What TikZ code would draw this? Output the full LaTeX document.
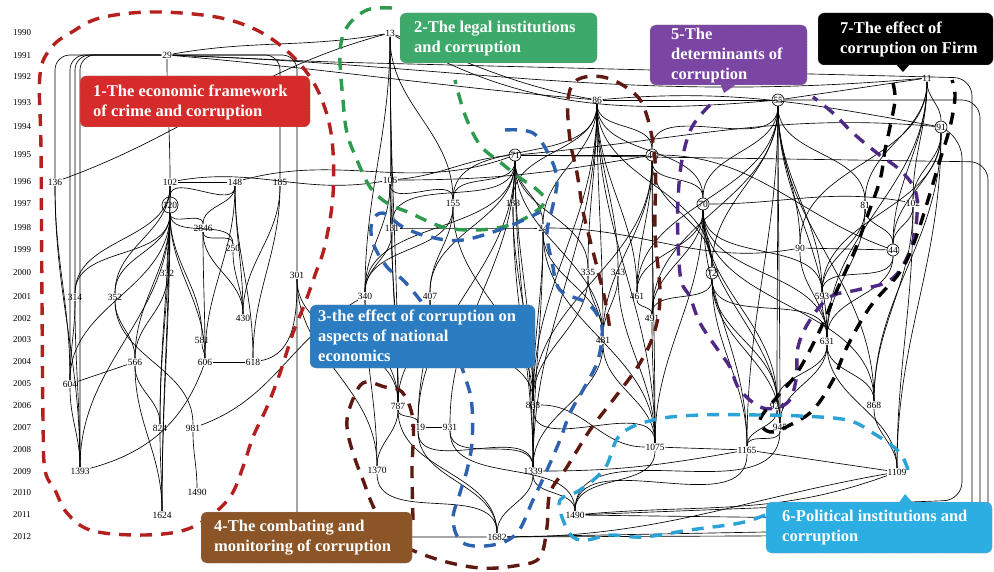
\documentclass[tikz,border=0pt]{standalone}
\usepackage{fontspec}
\setmainfont{Liberation Serif}
\definecolor{cred}{HTML}{D62B2B}
\definecolor{cgreen}{HTML}{3DAA6B}
\definecolor{cblue}{HTML}{2C7CC1}
\definecolor{cbrown}{HTML}{8C5528}
\definecolor{cpurple}{HTML}{7B46A3}
\definecolor{ccyan}{HTML}{2DAEE2}
\definecolor{dred}{HTML}{B3201E}
\definecolor{dgreen}{HTML}{2E9A4E}
\definecolor{dblue}{HTML}{2E62AE}
\definecolor{dbrown}{HTML}{5E1A12}
\definecolor{dpurple}{HTML}{4E2A86}
\definecolor{dcyan}{HTML}{2BA3D6}
\begin{document}
\begin{tikzpicture}[x=1pt,y=1pt,
  lk/.style={line width=0.65pt, black},
  nd/.style={font=\fontsize{9.5}{10}\selectfont, inner sep=0.6pt},
  cn/.style={nd, circle, draw, line width=0.6pt, inner sep=0.2pt, minimum size=12pt},
  yr/.style={font=\fontsize{9}{10}\selectfont, inner sep=0pt},
  grp/.style={line width=3.4pt, dash pattern=on 12pt off 9pt},
  lbox/.style={rounded corners=6pt, draw=black!45, densely dotted, line width=0.5pt},
  ltxt/.style={font=\fontsize{16.5}{20}\selectfont\bfseries, text=white, align=left, anchor=north west, inner sep=0pt}
]
\useasboundingbox (0,0) rectangle (994,-572);
\fill[white] (0,0) rectangle (994,-572);

% year axis
\foreach \yy/\yp in {1990/33,1991/56,1992/77,1993/103,1994/127,1995/155,1996/182,1997/204,1998/228,1999/250,2000/273,2001/297,2002/319,2003/340,2004/362,2005/384,2006/406,2007/428,2008/450,2009/472,2010/493,2011/515,2012/537}
  \node[yr] (y\yy) at (22,-\yp) {\yy};

% nodes, left cluster
\node[nd] (n29) at (167,-55) {29};
\node[nd] (n136) at (55,-182) {136};
\node[nd] (n102) at (170,-182) {102};
\node[nd] (n148) at (235,-182) {148};
\node[nd] (n185) at (280,-182) {185};
\node[cn] (n120) at (170,-205) {120};
\node[nd] (n284) at (203,-228) {2846};
\node[nd] (n250) at (233,-248) {250};
\node[nd] (n332) at (167,-273) {332};
\node[nd] (n301) at (297,-275) {301};
\node[nd] (n314) at (75,-297) {314};
\node[nd] (n352) at (115,-297) {352};
\node[nd] (n430) at (243,-318) {430};
\node[nd] (n581) at (202,-340) {581};
\node[nd] (n566) at (135,-362) {566};
\node[nd] (n606) at (205,-362) {606};
\node[nd] (n618) at (253,-362) {618};
\node[nd] (n604) at (70,-384) {604};
\node[nd] (n824) at (160,-428) {824};
\node[nd] (n981) at (193,-428) {981};
\node[nd] (n1393) at (80,-471) {1393};
\node[nd] (n1490a) at (197,-492) {1490};
\node[nd] (n1624) at (162,-515) {1624};
% nodes, right cluster
\node[nd] (n13) at (390,-33) {13};
\node[nd] (n86) at (597,-100) {86};
\node[cn] (n55) at (778,-100) {55};
\node[nd] (n11) at (927,-78) {11};
\node[cn] (n91) at (941,-127) {91};
\node[cn] (n71) at (515,-155) {71};
\node[cn] (n46) at (652,-155) {46};
\node[nd] (n106) at (390,-180) {106};
\node[nd] (n155) at (453,-203) {155};
\node[nd] (n133) at (513,-203) {133};
\node[cn] (n70) at (703,-204) {70};
\node[nd] (n81) at (865,-205) {81};
\node[nd] (n102b) at (913,-203) {102};
\node[nd] (n131) at (392,-228) {131};
\node[nd] (n24) at (543,-228) {24};
\node[nd] (n90) at (800,-248) {90};
\node[cn] (n44) at (893,-250) {44};
\node[cn] (n72) at (712,-273) {72};
\node[nd] (n335) at (588,-272) {335};
\node[nd] (n343) at (618,-272) {343};
\node[nd] (n340) at (365,-296) {340};
\node[nd] (n407) at (430,-296) {407};
\node[nd] (n461) at (637,-296) {461};
\node[nd] (n593) at (822,-296) {593};
\node[nd] (n491) at (652,-318) {491};
\node[nd] (n481) at (603,-340) {481};
\node[nd] (n631) at (827,-341) {631};
\node[nd] (n787) at (398,-406) {787};
\node[nd] (n838) at (533,-405) {838};
\node[nd] (n924) at (777,-406) {924};
\node[nd] (n868) at (874,-405) {868};
\node[nd] (n919) at (418,-427) {919};
\node[nd] (n931) at (450,-427) {931};
\node[nd] (n945) at (780,-427) {945};
\node[nd] (n1075) at (655,-447) {1075};
\node[nd] (n1165) at (747,-450) {1165};
\node[nd] (n1370) at (377,-470) {1370};
\node[nd] (n1339) at (533,-471) {1339};
\node[nd] (n1109) at (897,-472) {1109};
\node[nd] (n1490) at (575,-515) {1490};
\node[nd] (n1682) at (497,-537) {1682};

% S-curve links (older above, newer below)
\foreach \a/\b in {n29/n102,n102/n120,n148/n120,n148/n284,n148/n430,n120/n284,n120/n250,n120/n332,n120/n566,n120/n606,n120/n314,n120/n352,n120/n604,n120/n581,n120/n824,n120/n1393,n120/n1624,n284/n250,n284/n606,n284/n430,n185/n430,n185/n618,n136/n1393,n136/n604,n314/n604,n314/n1393,n352/n566,n352/n981,n566/n824,n566/n1624,n581/n606,n824/n1624,n981/n1490a,n332/n566,n102/n314,n102/n352,n102/n1624,n148/n618,n250/n430,n604/n1393,n102/n824,n148/n606}
  \draw[lk] (\a) to[out=-90,in=90] (\b);
\foreach \a/\b in {n13/n106,n13/n131,n13/n155,n13/n340,n13/n787,n71/n133,n71/n155,n71/n24,n71/n838,n71/n407,n71/n131,n71/n335,n71/n1339,n71/n340,n71/n919,n71/n931,n71/n481,n86/n46,n86/n335,n86/n343,n86/n481,n86/n24,n86/n838,n86/n461,n86/n70,n86/n1075,n86/n133,n86/n155,n86/n72,n86/n1339,n55/n70,n55/n72,n55/n90,n55/n81,n55/n593,n55/n924,n55/n631,n55/n1165,n55/n461,n55/n46,n55/n945,n55/n868,n55/n491,n11/n91,n11/n81,n11/n44,n11/n90,n11/n102b,n11/n631,n91/n44,n91/n868,n91/n102b,n91/n1109,n91/n593}
  \draw[lk] (\a) to[out=-90,in=90] (\b);
\foreach \a/\b in {n46/n70,n46/n72,n46/n491,n46/n481,n46/n1075,n46/n461,n46/n838,n70/n72,n70/n593,n70/n631,n70/n924,n70/n945,n70/n1165,n70/n491,n70/n461,n70/n1075,n70/n868,n81/n44,n81/n593,n81/n631,n90/n631,n44/n631,n44/n593,n102b/n44,n102b/n868,n102b/n1109,n72/n631,n72/n924,n72/n1165,n72/n945,n72/n491,n593/n631,n631/n868,n631/n945,n631/n1109,n631/n924,n868/n1109,n924/n945,n945/n1165,n335/n481,n343/n481,n461/n491,n491/n1075,n481/n1339,n481/n1075}
  \draw[lk] (\a) to[out=-90,in=90] (\b);
\foreach \a/\b in {n106/n340,n106/n131,n106/n787,n106/n155,n155/n407,n155/n838,n155/n340,n133/n838,n24/n838,n24/n1339,n24/n481,n131/n340,n131/n787,n340/n787,n407/n787,n407/n919,n407/n838,n340/n1370,n787/n919,n787/n1370,n787/n1682,n919/n1339,n931/n1339,n931/n1490,n919/n1682,n838/n1339,n838/n1075,n1339/n1490,n1370/n1682,n1339/n1682,n301/n787,n301/n1370,n133/n1339,n24/n1075,n1075/n1490,n1165/n1490,n945/n1490,n924/n1165,n335/n838,n343/n1075}
  \draw[lk] (\a) to[out=-90,in=90] (\b);

% straight and sideways links
\foreach \a/\b in {n102/n148,n606/n618,n566/n604,n919/n931,n1075/n1165,n1165/n1109,n86/n55,n55/n11,n71/n46,n90/n44}
  \draw[lk] (\a) -- (\b);
\draw[lk] (n1393) to[out=15,in=-110] (n606);
\draw[lk] (n981) to[out=20,in=210] (n340);
\draw[lk] (n618) to[out=10,in=-90] (n301);
\draw[lk] (n13) to[out=-170,in=10] (n29);
\draw[lk] (n29) to[out=-2,in=185] (n11);
\draw[lk] (n29) to[out=-5,in=175] (n86);
\draw[lk] (n13) to[out=-20,in=170] (n86);
\draw[lk] (n13) to[out=-30,in=185] (n55);
\draw[lk] (n86) to[out=5,in=170] (n91);
\draw[lk] (n71) to[out=5,in=175] (n91);
\draw[lk] (n106) to[out=5,in=185] (n71);
\draw[lk] (n106) to[out=0,in=190] (n46);
\draw[lk] (n102) to[out=10,in=190] (n106);
\draw[lk] (n148) to[out=15,in=200] (n71);
\draw[lk] (n136) to[out=20,in=195] (n13);
\draw[lk] (n131) to[out=0,in=180] (n24);
\draw[lk] (n24) to[out=0,in=190] (n90);
\draw[lk] (n1490) to[out=5,in=200] (n1109);
\draw[lk] (n1339) to[out=0,in=190] (n1165);
\draw[lk] (n838) to[out=0,in=180] (n1075);
\draw[lk] (n46) to[out=0,in=160] (n44);
\draw[lk] (n70) to[out=0,in=170] (n102b);
\draw[lk] (n1682) to[out=0,in=190] (n1109);
\draw[lk, rounded corners=15pt] (n29) -| (n136);
\draw[lk, rounded corners=15pt] (n29) -| (n604);
\draw[lk, rounded corners=15pt] (n29) -| (n314);
\draw[lk, rounded corners=15pt] (n29) -| (n1393);
\draw[lk, rounded corners=15pt] (n29) -| (n185);
\draw[lk, rounded corners=15pt] (n29) -| (n301);
\draw[lk, rounded corners=15pt] (n301) |- (n1682);
\draw[lk, rounded corners=18pt] (n29) -- (330,-62) -- (972,-78) -- (972,-520) -- (n1490);
\draw[lk, rounded corners=18pt] (n55) -- (980,-100) -- (980,-528) -- (n1682);
\draw[lk, rounded corners=18pt] (n71) -- (988,-162) -- (988,-535) -- (n1682);
\draw[lk, rounded corners=18pt] (n91) -- (962,-140) -- (962,-500) -- (n1490);

% group outlines
\begin{scope}[yscale=-1]
\draw[grp, dred] plot[smooth cycle, tension=0.6] coordinates {(45,470) (43,420) (42,300) (41,150) (40,75) (52,47) (72,32) (100,18) (150,12) (210,16) (250,27) (280,45) (305,70) (322,100) (332,140) (333,195) (325,245) (315,275) (305,303) (293,333) (280,373) (267,407) (253,437) (243,467) (230,497) (205,520) (177,532) (133,535) (90,530) (67,513) (55,490)};
\draw[grp, dgreen] plot[smooth, tension=0.6] coordinates {(392,8) (367,10) (347,27) (340,53) (343,100) (347,133) (357,160) (370,187) (387,203) (410,213) (443,227) (477,230) (510,225) (535,212) (545,200) (535,188) (520,178) (500,162) (480,145) (465,115) (455,80)};
\draw[grp, dblue] plot[smooth, tension=0.6] coordinates {(505,130) (533,133) (550,157) (557,180) (553,205) (547,233) (552,262) (560,290) (587,303) (600,320) (602,337) (597,363) (583,390) (570,413) (560,440) (547,470) (533,500) (517,533) (493,545) (463,543) (453,520) (460,493) (467,470) (472,443) (472,407) (467,383) (450,340) (420,300) (403,280) (387,267) (373,243) (372,222) (383,213) (403,227) (430,237) (463,240) (507,227) (540,212)};
\draw[grp, dbrown] plot[smooth, tension=0.6] coordinates {(413,520) (412,470) (413,420) (402,392) (385,387) (363,383) (350,407) (347,427) (353,453) (363,480) (375,510) (395,540) (433,558) (480,568) (520,565) (540,557) (547,527) (550,493) (567,467) (590,430) (613,400) (640,363) (655,330) (660,293) (655,233) (655,160) (645,110) (630,90) (603,77) (577,80) (568,100) (570,140) (577,173) (583,211) (590,240) (597,267) (605,300) (610,330)};
\draw[grp, dpurple] plot[smooth, tension=0.6] coordinates {(710,105) (692,127) (682,160) (678,200) (678,240) (681,280) (690,297) (700,323) (718,350) (730,367) (740,390) (763,408) (787,403) (796,380) (798,347) (810,320) (830,297) (857,290) (885,283) (900,270) (912,245) (917,215) (915,190) (900,170) (877,153) (853,133) (833,113) (813,97)};
\draw[grp, black] plot[smooth, tension=0.6] coordinates {(893,83) (895,100) (890,127) (885,150) (880,180) (867,217) (855,250) (837,290) (820,330) (797,373) (777,397) (760,420) (770,432) (790,425) (813,410) (833,380) (847,347) (870,307) (900,272) (915,240) (928,200) (940,160) (950,127) (955,97) (952,80)};
\draw[grp, dcyan] plot[smooth, tension=0.6] coordinates {(765,515) (740,523) (690,530) (643,537) (610,535) (587,540) (573,537) (563,520) (560,500) (580,490) (605,468) (620,435) (653,420) (700,415) (760,415) (800,416) (847,420) (873,433) (900,453) (910,477)};
\end{scope}

% label boxes
\draw[lbox, fill=cred] (80,-76) rectangle (310,-127);
\node[ltxt] (t1) at (93,-85) {1-The economic framework\\of crime and corruption};
\draw[lbox, fill=cgreen] (400,-13) rectangle (597,-63);
\node[ltxt] (t2) at (414,-21) {2-The legal institutions\\and corruption};
\draw[lbox, fill=cblue] (310,-305) rectangle (535,-368);
\node[ltxt] (t3) at (318,-310) {3-the effect of corruption on\\aspects of national\\economics};
\draw[lbox, fill=cbrown] (201,-512) rectangle (412,-563);
\node[ltxt] (t4) at (214,-520) {4-The combating and\\monitoring of corruption};
\fill[cpurple] (720,-83) -- (738,-83) -- (724,-93) -- cycle;
\draw[lbox, fill=cpurple] (650,-25) rectangle (807,-85);
\node[ltxt] (t5) at (671,-28) {5-The\\determinants of\\corruption};
\fill[ccyan] (898,-504) -- (914,-504) -- (905,-494) -- cycle;
\draw[lbox, fill=ccyan] (766,-502) rectangle (992,-553);
\node[ltxt] (t6) at (782,-510) {6-Political institutions and\\corruption};
\fill[black] (895,-63) -- (911,-63) -- (903,-72) -- cycle;
\draw[lbox, fill=black] (818,-13) rectangle (993,-65);
\node[ltxt] (t7) at (840,-22) {7-The effect of\\corruption on Firm};
\end{tikzpicture}
\end{document}
